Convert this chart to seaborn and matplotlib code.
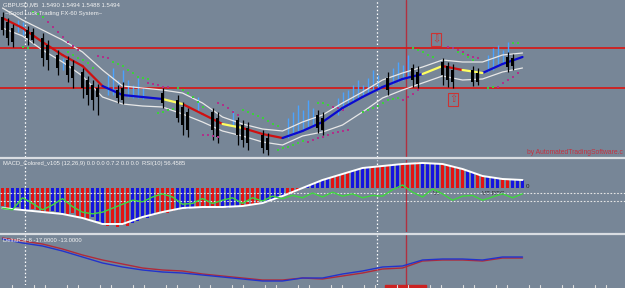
import numpy as np
import pandas as pd
import matplotlib
matplotlib.use("Agg")
import matplotlib.pyplot as plt
import seaborn as sns
from matplotlib.lines import Line2D
from matplotlib.patches import Rectangle

sns.set_theme(style="white")
plt.rcParams['font.family'] = ['Liberation Sans', 'DejaVu Sans']

# ---------------- data ----------------
header = "GBPUSD,M5  1.5490 1.5494 1.5488 1.5494"
system_name = "~Good Luck Trading FX-60 System~"
macd_label = "MACD_Colored_v105 (12,26,9) 0.0 0.0 0.7.2 0.0 0.0  RSI(10) 56.4585"
delta_label = "DeltaRSI-8 -17.0000 -13.0000"
watermark = "by AutomatedTradingSoftware.c"

line_bars = list(range(0, 105, 4))
mid = [1.5538, 1.5528, 1.5514, 1.5501, 1.5490, 1.5470, 1.5461, 1.5459, 1.5457,
       1.5452, 1.5442, 1.5432, 1.5428, 1.5422, 1.5418, 1.5425, 1.5434, 1.5448,
       1.5459, 1.5469, 1.5477, 1.5482, 1.5490, 1.5486, 1.5483, 1.5492, 1.5499]
mid_trend = ["R", "R", "R", "R", "R", "B", "B", "B", "Y", "R", "R", "Y", "R",
             "R", "B", "B", "B", "B", "B", "B", "B", "Y", "R", "Y", "B", "B"]
upper = [1.5548, 1.5536, 1.5526, 1.5516, 1.5504, 1.5486, 1.5470, 1.5468, 1.5466,
         1.5463, 1.5453, 1.5439, 1.5432, 1.5427, 1.5425, 1.5434, 1.5441, 1.5453,
         1.5464, 1.5476, 1.5483, 1.5489, 1.5496, 1.5494, 1.5494, 1.5501, 1.5503]
lower = [1.5528, 1.5520, 1.5506, 1.5494, 1.5480, 1.5459, 1.5452, 1.5450, 1.5449,
         1.5442, 1.5434, 1.5425, 1.5420, 1.5414, 1.5411, 1.5420, 1.5424, 1.5431,
         1.5444, 1.5458, 1.5466, 1.5473, 1.5480, 1.5476, 1.5477, 1.5484, 1.5488]
levels = [1.5508, 1.5468]

candle_bars = [0, 1, 2, 5, 6, 8, 9, 11, 13, 14, 16, 17, 18, 19, 23, 24, 32, 35, 36, 37,
               42, 43, 47, 48, 49, 52, 53, 63, 64, 77, 82, 83, 88, 89, 90, 94, 95, 101, 102]
candle_open = [1.5539, 1.5534, 1.5528, 1.5526, 1.5524, 1.5518, 1.5511, 1.5501, 1.5496, 1.5490,
               1.5484, 1.5476, 1.5471, 1.5468, 1.5466, 1.5468, 1.5463, 1.5456, 1.5449, 1.5444,
               1.5444, 1.5438, 1.5436, 1.5431, 1.5428, 1.5421, 1.5418, 1.5441, 1.5438, 1.5478,
               1.5488, 1.5484, 1.5494, 1.5490, 1.5486, 1.5486, 1.5483, 1.5499, 1.5498]
candle_close = [1.5526, 1.5518, 1.5514, 1.5518, 1.5516, 1.5498, 1.5496, 1.5488, 1.5481, 1.5478,
                1.5468, 1.5461, 1.5456, 1.5459, 1.5458, 1.5456, 1.5453, 1.5438, 1.5431, 1.5426,
                1.5426, 1.5419, 1.5421, 1.5416, 1.5413, 1.5408, 1.5406, 1.5428, 1.5426, 1.5466,
                1.5476, 1.5472, 1.5481, 1.5476, 1.5474, 1.5474, 1.5474, 1.5489, 1.5490]
candle_high = [1.5544, 1.5538, 1.5532, 1.5530, 1.5528, 1.5523, 1.5516, 1.5506, 1.5500, 1.5496,
               1.5488, 1.5480, 1.5476, 1.5472, 1.5471, 1.5474, 1.5468, 1.5461, 1.5454, 1.5448,
               1.5448, 1.5444, 1.5439, 1.5436, 1.5434, 1.5426, 1.5423, 1.5446, 1.5444, 1.5484,
               1.5492, 1.5490, 1.5498, 1.5494, 1.5492, 1.5490, 1.5488, 1.5504, 1.5502]
candle_low = [1.5521, 1.5511, 1.5509, 1.5511, 1.5513, 1.5490, 1.5486, 1.5481, 1.5474, 1.5468,
              1.5458, 1.5451, 1.5446, 1.5441, 1.5453, 1.5452, 1.5448, 1.5434, 1.5421, 1.5419,
              1.5416, 1.5413, 1.5411, 1.5409, 1.5406, 1.5403, 1.5401, 1.5423, 1.5421, 1.5461,
              1.5469, 1.5468, 1.5471, 1.5469, 1.5468, 1.5470, 1.5471, 1.5484, 1.5486]

spike_bars = [3, 4, 12, 21, 22, 23, 24, 25, 26, 27, 28, 39, 46, 57, 58, 59, 60, 61, 62,
              67, 68, 69, 70, 71, 72, 73, 74, 75, 78, 79, 80, 81, 97, 98, 99, 100, 101]
spike_top = [1.5536, 1.5534, 1.5498, 1.5481, 1.5488, 1.5476, 1.5486, 1.5476, 1.5471, 1.5478,
             1.5468, 1.5459, 1.5446, 1.5438, 1.5444, 1.5451, 1.5446, 1.5456, 1.5448,
             1.5458, 1.5464, 1.5466, 1.5471, 1.5476, 1.5471, 1.5478, 1.5486, 1.5481,
             1.5488, 1.5494, 1.5491, 1.5501, 1.5501, 1.5508, 1.5511, 1.5506, 1.5514]
spike_bottom = [1.5524, 1.5521, 1.5486, 1.5461, 1.5461, 1.5460, 1.5460, 1.5459, 1.5458, 1.5458,
                1.5457, 1.5444, 1.5431, 1.5418, 1.5421, 1.5423, 1.5426, 1.5428, 1.5430,
                1.5441, 1.5446, 1.5450, 1.5454, 1.5458, 1.5459, 1.5462, 1.5464, 1.5466,
                1.5472, 1.5474, 1.5476, 1.5478, 1.5484, 1.5486, 1.5490, 1.5492, 1.5494]

sar_green_bars = [4, 5, 6, 7, 8, 13, 14, 15, 16, 17, 18, 22, 23, 24, 25, 26, 27, 28, 29,
                  31, 32, 33, 34, 35, 36, 37, 38, 39, 40, 48, 49, 50, 51, 52, 53, 54, 55,
                  55, 56, 57, 58, 59, 60, 63, 64, 65, 72, 73, 74, 75, 76, 77, 78, 79,
                  82, 83, 84, 85, 86, 91, 92, 93, 94, 97, 98, 102, 103]
sar_green = [1.5509, 1.5508, 1.5544, 1.5542, 1.5539, 1.5504, 1.5501, 1.5498, 1.5496, 1.5493,
             1.5488, 1.5494, 1.5492, 1.5490, 1.5486, 1.5483, 1.5479, 1.5478, 1.5477,
             1.5443, 1.5444, 1.5446, 1.5447, 1.5468, 1.5466, 1.5463, 1.5459, 1.5454, 1.5449,
             1.5446, 1.5444, 1.5442, 1.5440, 1.5438, 1.5435, 1.5432, 1.5430,
             1.5406, 1.5408, 1.5409, 1.5411, 1.5413, 1.5415, 1.5453, 1.5453, 1.5451,
             1.5444, 1.5446, 1.5448, 1.5450, 1.5453, 1.5456, 1.5457, 1.5458,
             1.5508, 1.5506, 1.5504, 1.5501, 1.5499, 1.5504, 1.5502, 1.5499, 1.5496,
             1.5468, 1.5469, 1.5513, 1.5513]
sar_purple_bars = [9, 10, 11, 12, 13, 14, 15, 19, 20, 21, 29, 30, 31, 32, 33, 40, 41, 42, 43,
                   43, 44, 45, 46, 47, 61, 62, 63, 64, 65, 66, 67, 68, 69, 66, 67, 68,
                   80, 81, 82, 83, 89, 90, 91, 92, 93, 94, 95, 99, 100, 101, 102, 103]
sar_purple = [1.5534, 1.5529, 1.5524, 1.5519, 1.5514, 1.5510, 1.5506, 1.5500, 1.5499, 1.5498,
              1.5473, 1.5472, 1.5471, 1.5469, 1.5469, 1.5421, 1.5421, 1.5420, 1.5419,
              1.5453, 1.5451, 1.5448, 1.5444, 1.5441, 1.5414, 1.5416, 1.5418, 1.5419, 1.5421,
              1.5423, 1.5424, 1.5425, 1.5426, 1.5449, 1.5448, 1.5446,
              1.5456, 1.5459, 1.5462, 1.5466, 1.5509, 1.5508, 1.5506, 1.5504, 1.5501,
              1.5499, 1.5498, 1.5469, 1.5473, 1.5476, 1.5479, 1.5483]

# MACD histogram (points, 1e-5) and colour per bar
macd_hist = [-18, -20, -21, -19, -22, -23, -21, -22, -24, -25, -23, -24, -26, -27, -25, -28,
             -30, -31, -29, -33, -36, -38, -37, -39, -37, -38, -35, -33, -29, -30, -27, -26,
             -24, -25, -23, -22, -20, -21, -19, -20, -19, -20, -18, -19, -19, -20, -18, -18,
             -18, -17, -16, -16, -15, -14, -12, -10, -8, -7, -5, -3, 0, 2, 4, 6,
             8, 9, 11, 12, 14, 15, 17, 18, 20, 21, 21, 22, 22, 23, 24, 24,
             24, 25, 25, 26, 25, 24, 25, 24, 24, 23, 22, 20, 19, 17, 16, 14,
             12, 11, 10, 9, 9, 8, 8, 8, 8]
macd_hist_colour = ("RR BBBB RRRR BBB RRRRR BBB RRRRR BBBBB RRRR BBBB RRRRR BBBB RRRR BBBBB "
                    "RRRR BBBBB RRRR BBBB RRRR BB RRRR BBBB RRRRR BB RR BBB RR BBB")
macd_line = [-20, -22, -24, -26, -30, -36, -36, -29, -24, -20, -19, -19, -18, -15, -8, 0,
             8, 14, 20, 22, 24, 25, 24, 19, 12, 9, 8]
rsi_bars = list(range(0, 105, 2))
rsi = [36, 34, 49, 42, 34, 40, 48, 38, 31, 29, 31, 36, 41, 46, 44, 50, 54, 50, 41, 42,
       48, 42, 46, 49, 42, 49, 45, 51, 48, 52, 49, 55, 50, 56, 51, 54, 49, 52, 51, 59,
       65, 56, 50, 60, 54, 46, 51, 52, 46, 50, 54, 49, 54]
rsi_levels = [55, 45]

delta_blue = [6, 2, -1, -6, -12, -18, -22, -25, -27, -28, -30, -32, -34, -36, -36, -33,
              -33, -29, -26, -22, -21, -15, -14, -14, -15, -12, -12]
delta_red = [7, 4, 1, -4, -10, -15, -19, -23, -25, -26, -29, -31, -33, -35, -35, -33,
             -34, -31, -28, -24, -23, -16, -15, -15, -16, -13, -13]

# ---------------- figure ----------------
W, H = 625, 288
BG = '#778697'
fig = plt.figure(figsize=(W / 100, H / 100), dpi=100)
fig.patch.set_facecolor(BG)


def px_axes(top, bottom):
    a = fig.add_axes([0, 1 - bottom / H, 1, (bottom - top) / H])
    a.set_facecolor(BG)
    a.set_xlim(-0.5, 124.5)
    a.set_xticks([]); a.set_yticks([])
    for s in a.spines.values():
        s.set_visible(False)
    return a


ax1 = px_axes(0, 157)
ax2 = px_axes(159.5, 232)
ax3 = px_axes(235, 285)
ax1.set_ylim(1.5399, 1.5556)
ax2.set_ylim(-44, 28.5)
ax3.set_ylim(-40, 10)

# vertical markers
for a in (ax1, ax2, ax3):
    a.axvline(4.5, color='white', lw=0.9, ls=(0, (1.2, 1.8)), zorder=1)
    a.axvline(74.9, color='white', lw=0.9, ls=(0, (1.2, 1.8)), zorder=1)
    a.axvline(80.7, color='#b03040', lw=1.0, zorder=1)

# main panel
for lv in levels:
    ax1.axhline(lv, color='#d41c1c', lw=1.3, zorder=2)
ax1.vlines(spike_bars, spike_bottom, spike_top, color='#4aa3ff', lw=1.0, zorder=3)
sns.lineplot(x=line_bars, y=upper, color='#e8e8e8', lw=0.9, ax=ax1, zorder=4)
sns.lineplot(x=line_bars, y=lower, color='#e8e8e8', lw=0.9, ax=ax1, zorder=4)

rows = []
for k in range(len(line_bars) - 1):
    for j in (k, k + 1):
        rows.append({'x': line_bars[j], 'y': mid[j], 'seg': k, 'trend': mid_trend[k]})
seg_df = pd.DataFrame(rows)
sns.lineplot(data=seg_df, x='x', y='y', hue='trend', units='seg', estimator=None,
             sort=False, palette={'R': '#d01010', 'B': '#0a0ad0', 'Y': '#ffff60'},
             lw=1.6, legend=False, ax=ax1, zorder=5)

o = np.array(candle_open); c = np.array(candle_close)
ax1.vlines(candle_bars, candle_low, candle_high, color='black', lw=0.9, zorder=6)
ax1.bar(candle_bars, np.abs(o - c), bottom=np.minimum(o, c), width=0.65,
        color='black', edgecolor='black', linewidth=0, zorder=6)

sns.scatterplot(x=sar_green_bars, y=sar_green, color='#3ccf3c', marker='s', s=3,
                linewidth=0, ax=ax1, zorder=7)
sns.scatterplot(x=sar_purple_bars, y=sar_purple, color='#b0308a', marker='s', s=3,
                linewidth=0, ax=ax1, zorder=7)

ax1.text(86.7, 1.55165, '⇩', fontsize=7, color='#cc3333', ha='center', va='center',
         family='DejaVu Sans',
         bbox=dict(boxstyle='square,pad=0.12', fc='none', ec='#cc3333', lw=0.8))
ax1.text(90.1, 1.54565, '⇧', fontsize=7, color='#cc3333', ha='center', va='center',
         family='DejaVu Sans',
         bbox=dict(boxstyle='square,pad=0.12', fc='none', ec='#cc3333', lw=0.8))

# MACD panel
cols = "".join(macd_hist_colour.split())
bar_cols = ['#e41212' if cols[i % len(cols)] == 'R' else '#1414e0' for i in range(len(macd_hist))]
ax2.bar(range(len(macd_hist)), macd_hist, width=0.68, color=bar_cols, linewidth=0, zorder=3)
sns.lineplot(x=line_bars, y=macd_line, color='white', lw=1.4, ax=ax2, zorder=4)
ax2.text(104.6, 1.5, '0', fontsize=4.5, color='#222222', va='center')
ax2.text(86.0, -5.5, 'VT', fontsize=4.5, color='#333333', va='center')
ax2.text(96.0, -5.5, 'VT RTC', fontsize=4.5, color='#333333', va='center')

ax2b = ax2.twinx()
ax2b.set_ylim(6.25, 96.875)
ax2b.set_xlim(-0.5, 124.5)
ax2b.set_yticks([])
for s in ax2b.spines.values():
    s.set_visible(False)
for lv in rsi_levels:
    ax2b.axhline(lv, color='#e6e6e6', lw=0.8, ls=(0, (1.5, 1.5)), zorder=2)
sns.lineplot(x=rsi_bars, y=rsi, color='#3fd63f', lw=1.0, ax=ax2b, zorder=5)

# Delta RSI panel
sns.lineplot(x=line_bars, y=delta_red, color='#b02a3a', lw=1.0, ax=ax3)
sns.lineplot(x=line_bars, y=delta_blue, color='#2233cc', lw=1.0, ax=ax3)
for a in (ax1, ax2, ax2b, ax3):
    a.set_xlabel(''); a.set_ylabel('')

# separators and bottom ticks
for yy in (158.2, 233.5):
    fig.add_artist(Line2D([0, 1], [1 - yy / H] * 2, color='#d9dde2', lw=1.6))
for base in (12, 34):
    for k in range(19):
        xp = base + 33 * k
        fig.add_artist(Line2D([xp / W] * 2, [0, 3 / H], color='#dddddd', lw=0.8))
fig.add_artist(Rectangle((385 / W, 0), 41 / W, 3 / H, color='#cc2222',
                         transform=fig.transFigure))

# texts
def ftext(x, y, s, ha='left', **kw):
    fig.text(x / W, 1 - y / H, s, va='center', ha=ha, **kw)

ftext(3, 5, header, fontsize=4.3, color='#f2f2f2')
ftext(5, 13, system_name, fontsize=4.3, color='#f2f2f2')
ftext(623, 152, watermark, ha='right', fontsize=4.9, color='#c43040')
ftext(3, 164, macd_label, fontsize=4.2, color='#f2f2f2')
ftext(3, 240, delta_label, fontsize=4.2, color='#f2f2f2')

fig.savefig('out.png', dpi=100, facecolor=BG)
